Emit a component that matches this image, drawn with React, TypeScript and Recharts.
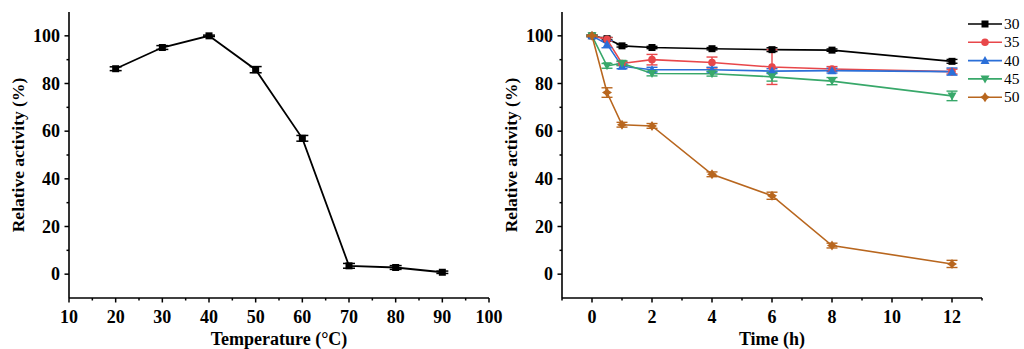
import React from 'react';
import { LineChart, Line, XAxis, YAxis, ErrorBar, Legend } from 'recharts';

// ---------- data: temperature optimum ----------
const temperatures = [20, 30, 40, 50, 60, 70, 80, 90];
const tempActivity = [86.2, 95.1, 100, 85.8, 57, 3.5, 2.8, 0.8];
const tempError = [0.8, 0.8, 0.3, 1.3, 1.2, 1.0, 0.8, 0.5];

// ---------- data: thermal stability ----------
const times = [0, 0.5, 1, 2, 4, 6, 8, 12];
const act30 = [100, 98.8, 95.8, 95.1, 94.6, 94.2, 94, 89.3];
const err30 = [0.3, 0.5, 0.5, 0.5, 0.5, 0.8, 0.5, 0.8];
const act35 = [100, 98.5, 88.4, 90, 88.8, 86.9, 86.1, 85];
const err35 = [0.3, 0.8, 0.8, 2.2, 2.3, 7.3, 1.0, 1.0];
const act40 = [100, 96.5, 87.2, 85.8, 85.8, 85.2, 85.4, 85];
const err40 = [0.3, 1.5, 1.0, 1.0, 1.0, 1.0, 1.0, 1.5];
const act45 = [100, 87.4, 88.5, 84.2, 84.1, 82.8, 81, 74.8];
const err45 = [0.3, 1.0, 1.0, 1.0, 1.0, 1.8, 1.5, 2.0];
const act50 = [100, 76.2, 62.7, 62.2, 41.9, 32.9, 12, 4.3];
const err50 = [0.3, 2.0, 1.0, 1.0, 1.0, 1.5, 1.0, 1.5];

const seriesNames = ['30', '35', '40', '45', '50'];
const seriesColors = ['#000000', '#e8474a', '#2b6fd8', '#38a86a', '#b8661e'];
const seriesShapes = ['square', 'circle', 'triangle', 'triangleDown', 'star'];
const seriesValues = [act30, act35, act40, act45, act50];
const seriesErrors = [err30, err35, err40, err45, err50];

const tempTicks = [10, 15, 20, 25, 30, 35, 40, 45, 50, 55, 60, 65, 70, 75, 80, 85, 90, 95, 100];
const timeTicks = [-1, 0, 1, 2, 3, 4, 5, 6, 7, 8, 9, 10, 11, 12, 13];
const yTicks = [0, 10, 20, 30, 40, 50, 60, 70, 80, 90, 100];

const tempData = temperatures.map((t, i) => ({ t, v: tempActivity[i], e: tempError[i] }));
const timeData = times.map((t, i) => {
  const row: any = { t };
  seriesNames.forEach((n, k) => {
    row['v' + n] = seriesValues[k][i];
    row['e' + n] = seriesErrors[k][i];
  });
  return row;
});

const FONT = 'Liberation Serif, Tinos, Times New Roman, DejaVu Serif, serif';
const TM = 8;
const FS = 18;

function Marker({ shape, cx, cy, color }: any) {
  switch (shape) {
    case 'square':
      return <rect x={cx - 3.5} y={cy - 3.5} width={7} height={7} fill={color} />;
    case 'circle':
      return <circle cx={cx} cy={cy} r={3.8} fill={color} />;
    case 'triangle':
      return <polygon points={`${cx},${cy - 4.5} ${cx - 4.5},${cy + 3.5} ${cx + 4.5},${cy + 3.5}`} fill={color} />;
    case 'triangleDown':
      return <polygon points={`${cx},${cy + 4.5} ${cx - 4.5},${cy - 3.5} ${cx + 4.5},${cy - 3.5}`} fill={color} />;
    case 'star':
    default: {
      const r = 5, q = 2;
      return (
        <polygon
          points={`${cx},${cy - r} ${cx + q},${cy - q} ${cx + r},${cy} ${cx + q},${cy + q} ${cx},${cy + r} ${cx - q},${cy + q} ${cx - r},${cy} ${cx - q},${cy - q}`}
          fill={color}
        />
      );
    }
  }
}

const makeXTick = (isMajor: (v: number) => boolean) => (props: any) => {
  const { x, y, payload } = props;
  const v = payload.value;
  const major = isMajor(v);
  const ay = y - TM;
  return (
    <g>
      <line x1={x} x2={x} y1={ay} y2={ay + (major ? 4.5 : 2.5)} stroke="#000" strokeWidth={1.5} />
      {major && (
        <text x={x} y={ay + 25} textAnchor="middle" fontFamily={FONT} fontWeight="bold" fontSize={FS} fill="#000">
          {v}
        </text>
      )}
    </g>
  );
};

const YTick = (props: any) => {
  const { x, y, payload } = props;
  const v = payload.value;
  const major = v % 20 === 0;
  const ax = x + TM;
  return (
    <g>
      <line x1={ax} x2={ax - (major ? 4.5 : 2.5)} y1={y} y2={y} stroke="#000" strokeWidth={1.5} />
      {major && (
        <text x={ax - 9} y={y + 6} textAnchor="end" fontFamily={FONT} fontWeight="bold" fontSize={FS} fill="#000">
          {v}
        </text>
      )}
    </g>
  );
};

const yTitle = (props: any) => {
  const vb = props.viewBox;
  const x = vb.x + 23.5;
  const y = vb.y + vb.height / 2;
  return (
    <text x={x} y={y} transform={`rotate(-90 ${x} ${y})`} textAnchor="middle" fontFamily={FONT} fontWeight="bold" fontSize={17.5} fill="#000">
      Relative activity (%)
    </text>
  );
};

const xTitle = (text: string) => (props: any) => {
  const vb = props.viewBox;
  return (
    <text x={vb.x + vb.width / 2} y={vb.y + 47} textAnchor="middle" fontFamily={FONT} fontWeight="bold" fontSize={FS} fill="#000">
      {text}
    </text>
  );
};

const renderLegend = () => (
  <svg width={62} height={100}>
    {seriesNames.map((n, i) => {
      const cy = 10 + i * 18.3;
      return (
        <g key={n}>
          <line x1={5} x2={39} y1={cy} y2={cy} stroke={seriesColors[i]} strokeWidth={1.6} />
          <Marker shape={seriesShapes[i]} cx={22} cy={cy} color={seriesColors[i]} />
          <text x={41} y={cy + 5} fontFamily={FONT} fontSize={15.5} fill="#000">
            {n}
          </text>
        </g>
      );
    })}
  </svg>
);

const axisLineStyle = { stroke: '#000', strokeWidth: 1.6 };

export default function App() {
  return (
    <div style={{ position: 'absolute', left: 0, top: 0, width: 1024, height: 349, background: '#fff' }}>
      <div style={{ position: 'absolute', left: 0, top: 0 }}>
        <LineChart width={512} height={349} data={tempData} margin={{ top: 12, right: 23, bottom: 0, left: 0 }}>
          <XAxis
            dataKey="t"
            type="number"
            domain={[10, 100]}
            ticks={tempTicks}
            interval={0}
            tickSize={0}
            tickMargin={TM}
            tickLine={false}
            axisLine={axisLineStyle}
            tick={makeXTick((v) => v % 10 === 0)}
            height={51}
            label={xTitle('Temperature (°C)')}
          />
          <YAxis
            type="number"
            domain={[-10, 110]}
            ticks={yTicks}
            interval={0}
            tickSize={0}
            tickMargin={TM}
            tickLine={false}
            axisLine={axisLineStyle}
            tick={YTick}
            width={69}
            label={yTitle}
          />
          <Line
            dataKey="v"
            stroke="#000"
            strokeWidth={1.8}
            isAnimationActive={false}
            activeDot={false}
            dot={(p: any) => <Marker key={`td-${p.index}`} shape="square" cx={p.cx} cy={p.cy} color="#000" />}
          >
            <ErrorBar dataKey="e" direction="y" width={6} stroke="#000" strokeWidth={1.5} />
          </Line>
        </LineChart>
      </div>
      <div style={{ position: 'absolute', left: 493, top: 0 }}>
        <LineChart width={531} height={349} data={timeData} margin={{ top: 12, right: 42, bottom: 0, left: 0 }}>
          <XAxis
            dataKey="t"
            type="number"
            domain={[-1, 13]}
            ticks={timeTicks}
            interval={0}
            tickSize={0}
            tickMargin={TM}
            tickLine={false}
            axisLine={axisLineStyle}
            tick={makeXTick((v) => v % 2 === 0)}
            height={51}
            label={xTitle('Time (h)')}
          />
          <YAxis
            type="number"
            domain={[-10, 110]}
            ticks={yTicks}
            interval={0}
            tickSize={0}
            tickMargin={TM}
            tickLine={false}
            axisLine={axisLineStyle}
            tick={YTick}
            width={69}
            label={yTitle}
          />
          {seriesNames.map((n, k) => (
            <Line
              key={n}
              name={n}
              dataKey={'v' + n}
              stroke={seriesColors[k]}
              strokeWidth={1.6}
              isAnimationActive={false}
              activeDot={false}
              dot={(p: any) => (
                <Marker key={`d${n}-${p.index}`} shape={seriesShapes[k]} cx={p.cx} cy={p.cy} color={seriesColors[k]} />
              )}
            >
              <ErrorBar dataKey={'e' + n} direction="y" width={5.5} stroke={seriesColors[k]} strokeWidth={1.4} />
            </Line>
          ))}
          <Legend
            layout="vertical"
            align="center"
            verticalAlign="middle"
            content={renderLegend}
            wrapperStyle={{ left: 470, top: 14, width: 62, height: 100 }}
          />
        </LineChart>
      </div>
    </div>
  );
}
